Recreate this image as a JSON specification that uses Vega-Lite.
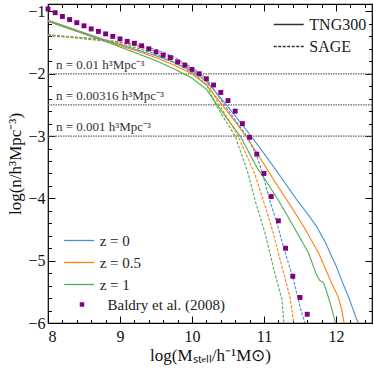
{
  "$schema": "https://vega.github.io/schema/vega-lite/v6.json",
  "width": 324,
  "height": 319,
  "autosize": "none",
  "padding": {"left": 48, "top": 4, "right": 2, "bottom": 45},
  "background": "white",
  "config": {
    "view": {"stroke": "#000", "strokeWidth": 1.2},
    "font": "Liberation Serif",
    "axis": {
      "domain": false, "grid": false, "tickColor": "#000", "tickWidth": 1,
      "labelFont": "Liberation Serif", "labelFontSize": 16, "labelColor": "#111",
      "titleFont": "Liberation Serif", "titleFontSize": 17, "titleFontWeight": "normal", "titleColor": "#111"
    },
    "legend": {"labelFont": "Liberation Serif", "labelFontSize": 15, "labelColor": "#222", "padding": 0}
  },
  "datasets": {
    "levels": [
      {"y": -2, "label": "n = 0.01 h³Mpc⁻³"},
      {"y": -2.5, "label": "n = 0.00316 h³Mpc⁻³"},
      {"y": -3, "label": "n = 0.001 h³Mpc⁻³"}
    ],
    "curves": [
      {"z": "z = 0", "model": "TNG300", "x": 8.0, "y": -1.14},
      {"z": "z = 0", "model": "TNG300", "x": 8.25, "y": -1.24},
      {"z": "z = 0", "model": "TNG300", "x": 8.5, "y": -1.34},
      {"z": "z = 0", "model": "TNG300", "x": 8.75, "y": -1.44},
      {"z": "z = 0", "model": "TNG300", "x": 9.0, "y": -1.53},
      {"z": "z = 0", "model": "TNG300", "x": 9.25, "y": -1.62},
      {"z": "z = 0", "model": "TNG300", "x": 9.5, "y": -1.71},
      {"z": "z = 0", "model": "TNG300", "x": 9.75, "y": -1.82},
      {"z": "z = 0", "model": "TNG300", "x": 10.0, "y": -1.95},
      {"z": "z = 0", "model": "TNG300", "x": 10.2, "y": -2.12},
      {"z": "z = 0", "model": "TNG300", "x": 10.48, "y": -2.5},
      {"z": "z = 0", "model": "TNG300", "x": 10.65, "y": -2.75},
      {"z": "z = 0", "model": "TNG300", "x": 10.82, "y": -3.0},
      {"z": "z = 0", "model": "TNG300", "x": 11.0, "y": -3.28},
      {"z": "z = 0", "model": "TNG300", "x": 11.2, "y": -3.6},
      {"z": "z = 0", "model": "TNG300", "x": 11.46, "y": -4.03},
      {"z": "z = 0", "model": "TNG300", "x": 11.6, "y": -4.24},
      {"z": "z = 0", "model": "TNG300", "x": 11.73, "y": -4.45},
      {"z": "z = 0", "model": "TNG300", "x": 11.85, "y": -4.7},
      {"z": "z = 0", "model": "TNG300", "x": 11.92, "y": -4.88},
      {"z": "z = 0", "model": "TNG300", "x": 12.0, "y": -5.08},
      {"z": "z = 0", "model": "TNG300", "x": 12.06, "y": -5.26},
      {"z": "z = 0", "model": "TNG300", "x": 12.19, "y": -5.63},
      {"z": "z = 0", "model": "TNG300", "x": 12.28, "y": -5.92},
      {"z": "z = 0", "model": "TNG300", "x": 12.33, "y": -6.05},
      {"z": "z = 0.5", "model": "TNG300", "x": 8.0, "y": -1.15},
      {"z": "z = 0.5", "model": "TNG300", "x": 8.25, "y": -1.25},
      {"z": "z = 0.5", "model": "TNG300", "x": 8.5, "y": -1.35},
      {"z": "z = 0.5", "model": "TNG300", "x": 8.75, "y": -1.45},
      {"z": "z = 0.5", "model": "TNG300", "x": 9.0, "y": -1.55},
      {"z": "z = 0.5", "model": "TNG300", "x": 9.25, "y": -1.64},
      {"z": "z = 0.5", "model": "TNG300", "x": 9.5, "y": -1.74},
      {"z": "z = 0.5", "model": "TNG300", "x": 9.75, "y": -1.86},
      {"z": "z = 0.5", "model": "TNG300", "x": 10.0, "y": -2.0},
      {"z": "z = 0.5", "model": "TNG300", "x": 10.2, "y": -2.18},
      {"z": "z = 0.5", "model": "TNG300", "x": 10.42, "y": -2.5},
      {"z": "z = 0.5", "model": "TNG300", "x": 10.6, "y": -2.77},
      {"z": "z = 0.5", "model": "TNG300", "x": 10.75, "y": -3.0},
      {"z": "z = 0.5", "model": "TNG300", "x": 11.0, "y": -3.45},
      {"z": "z = 0.5", "model": "TNG300", "x": 11.15, "y": -3.73},
      {"z": "z = 0.5", "model": "TNG300", "x": 11.32, "y": -4.03},
      {"z": "z = 0.5", "model": "TNG300", "x": 11.55, "y": -4.45},
      {"z": "z = 0.5", "model": "TNG300", "x": 11.76, "y": -4.88},
      {"z": "z = 0.5", "model": "TNG300", "x": 11.85, "y": -5.12},
      {"z": "z = 0.5", "model": "TNG300", "x": 11.92, "y": -5.31},
      {"z": "z = 0.5", "model": "TNG300", "x": 12.03, "y": -5.58},
      {"z": "z = 0.5", "model": "TNG300", "x": 12.08, "y": -5.79},
      {"z": "z = 0.5", "model": "TNG300", "x": 12.12, "y": -6.05},
      {"z": "z = 1", "model": "TNG300", "x": 8.0, "y": -1.16},
      {"z": "z = 1", "model": "TNG300", "x": 8.25, "y": -1.26},
      {"z": "z = 1", "model": "TNG300", "x": 8.5, "y": -1.36},
      {"z": "z = 1", "model": "TNG300", "x": 8.75, "y": -1.46},
      {"z": "z = 1", "model": "TNG300", "x": 9.0, "y": -1.57},
      {"z": "z = 1", "model": "TNG300", "x": 9.25, "y": -1.68},
      {"z": "z = 1", "model": "TNG300", "x": 9.5, "y": -1.79},
      {"z": "z = 1", "model": "TNG300", "x": 9.75, "y": -1.92},
      {"z": "z = 1", "model": "TNG300", "x": 10.0, "y": -2.07},
      {"z": "z = 1", "model": "TNG300", "x": 10.2, "y": -2.25},
      {"z": "z = 1", "model": "TNG300", "x": 10.35, "y": -2.5},
      {"z": "z = 1", "model": "TNG300", "x": 10.5, "y": -2.74},
      {"z": "z = 1", "model": "TNG300", "x": 10.67, "y": -3.0},
      {"z": "z = 1", "model": "TNG300", "x": 10.9, "y": -3.5},
      {"z": "z = 1", "model": "TNG300", "x": 11.05, "y": -3.76},
      {"z": "z = 1", "model": "TNG300", "x": 11.2, "y": -4.03},
      {"z": "z = 1", "model": "TNG300", "x": 11.41, "y": -4.45},
      {"z": "z = 1", "model": "TNG300", "x": 11.62, "y": -4.88},
      {"z": "z = 1", "model": "TNG300", "x": 11.72, "y": -5.2},
      {"z": "z = 1", "model": "TNG300", "x": 11.77, "y": -5.31},
      {"z": "z = 1", "model": "TNG300", "x": 11.83, "y": -5.36},
      {"z": "z = 1", "model": "TNG300", "x": 11.87, "y": -5.5},
      {"z": "z = 1", "model": "TNG300", "x": 11.92, "y": -5.68},
      {"z": "z = 1", "model": "TNG300", "x": 12.0, "y": -6.03},
      {"z": "z = 0", "model": "SAGE", "x": 8.0, "y": -1.37},
      {"z": "z = 0", "model": "SAGE", "x": 8.25, "y": -1.4},
      {"z": "z = 0", "model": "SAGE", "x": 8.5, "y": -1.42},
      {"z": "z = 0", "model": "SAGE", "x": 8.75, "y": -1.45},
      {"z": "z = 0", "model": "SAGE", "x": 9.0, "y": -1.49},
      {"z": "z = 0", "model": "SAGE", "x": 9.25, "y": -1.54},
      {"z": "z = 0", "model": "SAGE", "x": 9.5, "y": -1.61},
      {"z": "z = 0", "model": "SAGE", "x": 9.75, "y": -1.73},
      {"z": "z = 0", "model": "SAGE", "x": 10.0, "y": -1.9},
      {"z": "z = 0", "model": "SAGE", "x": 10.2, "y": -2.08},
      {"z": "z = 0", "model": "SAGE", "x": 10.45, "y": -2.5},
      {"z": "z = 0", "model": "SAGE", "x": 10.6, "y": -2.74},
      {"z": "z = 0", "model": "SAGE", "x": 10.76, "y": -3.0},
      {"z": "z = 0", "model": "SAGE", "x": 10.9, "y": -3.32},
      {"z": "z = 0", "model": "SAGE", "x": 10.98, "y": -3.6},
      {"z": "z = 0", "model": "SAGE", "x": 11.08, "y": -4.03},
      {"z": "z = 0", "model": "SAGE", "x": 11.17, "y": -4.36},
      {"z": "z = 0", "model": "SAGE", "x": 11.27, "y": -4.78},
      {"z": "z = 0", "model": "SAGE", "x": 11.41, "y": -5.31},
      {"z": "z = 0", "model": "SAGE", "x": 11.5, "y": -5.74},
      {"z": "z = 0", "model": "SAGE", "x": 11.58, "y": -6.05},
      {"z": "z = 0.5", "model": "SAGE", "x": 8.0, "y": -1.38},
      {"z": "z = 0.5", "model": "SAGE", "x": 8.25, "y": -1.4},
      {"z": "z = 0.5", "model": "SAGE", "x": 8.5, "y": -1.43},
      {"z": "z = 0.5", "model": "SAGE", "x": 8.75, "y": -1.46},
      {"z": "z = 0.5", "model": "SAGE", "x": 9.0, "y": -1.5},
      {"z": "z = 0.5", "model": "SAGE", "x": 9.25, "y": -1.56},
      {"z": "z = 0.5", "model": "SAGE", "x": 9.5, "y": -1.64},
      {"z": "z = 0.5", "model": "SAGE", "x": 9.75, "y": -1.76},
      {"z": "z = 0.5", "model": "SAGE", "x": 10.0, "y": -1.93},
      {"z": "z = 0.5", "model": "SAGE", "x": 10.2, "y": -2.12},
      {"z": "z = 0.5", "model": "SAGE", "x": 10.38, "y": -2.5},
      {"z": "z = 0.5", "model": "SAGE", "x": 10.52, "y": -2.76},
      {"z": "z = 0.5", "model": "SAGE", "x": 10.64, "y": -3.0},
      {"z": "z = 0.5", "model": "SAGE", "x": 10.87, "y": -3.6},
      {"z": "z = 0.5", "model": "SAGE", "x": 10.99, "y": -4.03},
      {"z": "z = 0.5", "model": "SAGE", "x": 11.13, "y": -4.56},
      {"z": "z = 0.5", "model": "SAGE", "x": 11.25, "y": -5.1},
      {"z": "z = 0.5", "model": "SAGE", "x": 11.36, "y": -5.58},
      {"z": "z = 0.5", "model": "SAGE", "x": 11.42, "y": -6.05},
      {"z": "z = 1", "model": "SAGE", "x": 8.0, "y": -1.39},
      {"z": "z = 1", "model": "SAGE", "x": 8.25, "y": -1.41},
      {"z": "z = 1", "model": "SAGE", "x": 8.5, "y": -1.44},
      {"z": "z = 1", "model": "SAGE", "x": 8.75, "y": -1.47},
      {"z": "z = 1", "model": "SAGE", "x": 9.0, "y": -1.52},
      {"z": "z = 1", "model": "SAGE", "x": 9.25, "y": -1.59},
      {"z": "z = 1", "model": "SAGE", "x": 9.5, "y": -1.68},
      {"z": "z = 1", "model": "SAGE", "x": 9.75, "y": -1.81},
      {"z": "z = 1", "model": "SAGE", "x": 10.0, "y": -1.98},
      {"z": "z = 1", "model": "SAGE", "x": 10.2, "y": -2.17},
      {"z": "z = 1", "model": "SAGE", "x": 10.33, "y": -2.5},
      {"z": "z = 1", "model": "SAGE", "x": 10.47, "y": -2.76},
      {"z": "z = 1", "model": "SAGE", "x": 10.6, "y": -3.0},
      {"z": "z = 1", "model": "SAGE", "x": 10.78, "y": -3.6},
      {"z": "z = 1", "model": "SAGE", "x": 10.875, "y": -4.03},
      {"z": "z = 1", "model": "SAGE", "x": 11.015, "y": -4.56},
      {"z": "z = 1", "model": "SAGE", "x": 11.15, "y": -5.2},
      {"z": "z = 1", "model": "SAGE", "x": 11.25, "y": -5.63},
      {"z": "z = 1", "model": "SAGE", "x": 11.28, "y": -6.05}
    ],
    "baldry": [
      {"src": "Baldry et al. (2008)", "x": 8.0, "y": -0.96}, {"src": "Baldry et al. (2008)", "x": 8.1, "y": -1.02},
      {"src": "Baldry et al. (2008)", "x": 8.2, "y": -1.08}, {"src": "Baldry et al. (2008)", "x": 8.3, "y": -1.13},
      {"src": "Baldry et al. (2008)", "x": 8.4, "y": -1.18}, {"src": "Baldry et al. (2008)", "x": 8.5, "y": -1.23},
      {"src": "Baldry et al. (2008)", "x": 8.6, "y": -1.28}, {"src": "Baldry et al. (2008)", "x": 8.7, "y": -1.32},
      {"src": "Baldry et al. (2008)", "x": 8.8, "y": -1.36}, {"src": "Baldry et al. (2008)", "x": 8.9, "y": -1.4},
      {"src": "Baldry et al. (2008)", "x": 9.0, "y": -1.44}, {"src": "Baldry et al. (2008)", "x": 9.1, "y": -1.48},
      {"src": "Baldry et al. (2008)", "x": 9.2, "y": -1.51}, {"src": "Baldry et al. (2008)", "x": 9.3, "y": -1.55},
      {"src": "Baldry et al. (2008)", "x": 9.4, "y": -1.6}, {"src": "Baldry et al. (2008)", "x": 9.5, "y": -1.65},
      {"src": "Baldry et al. (2008)", "x": 9.6, "y": -1.7}, {"src": "Baldry et al. (2008)", "x": 9.7, "y": -1.74},
      {"src": "Baldry et al. (2008)", "x": 9.8, "y": -1.81}, {"src": "Baldry et al. (2008)", "x": 9.9, "y": -1.86},
      {"src": "Baldry et al. (2008)", "x": 10.0, "y": -1.93}, {"src": "Baldry et al. (2008)", "x": 10.1, "y": -2.0},
      {"src": "Baldry et al. (2008)", "x": 10.2, "y": -2.08}, {"src": "Baldry et al. (2008)", "x": 10.3, "y": -2.18},
      {"src": "Baldry et al. (2008)", "x": 10.4, "y": -2.3}, {"src": "Baldry et al. (2008)", "x": 10.5, "y": -2.43},
      {"src": "Baldry et al. (2008)", "x": 10.6, "y": -2.6}, {"src": "Baldry et al. (2008)", "x": 10.7, "y": -2.8},
      {"src": "Baldry et al. (2008)", "x": 10.8, "y": -3.02}, {"src": "Baldry et al. (2008)", "x": 10.9, "y": -3.29},
      {"src": "Baldry et al. (2008)", "x": 11.0, "y": -3.6}, {"src": "Baldry et al. (2008)", "x": 11.1, "y": -3.97},
      {"src": "Baldry et al. (2008)", "x": 11.2, "y": -4.36}, {"src": "Baldry et al. (2008)", "x": 11.3, "y": -4.8},
      {"src": "Baldry et al. (2008)", "x": 11.4, "y": -5.25}, {"src": "Baldry et al. (2008)", "x": 11.5, "y": -5.59},
      {"src": "Baldry et al. (2008)", "x": 11.6, "y": -5.86}
    ]
  },
  "layer": [
    {
      "data": {"name": "levels"},
      "mark": {"type": "rule", "color": "#666", "strokeWidth": 1.3, "strokeDash": [1.5, 1]},
      "encoding": {
        "y": {"field": "y", "type": "quantitative", "scale": {"domain": [-6, -0.88], "nice": false, "zero": false},
              "axis": {"orient": "right", "values": [-6, -5, -4, -3, -2, -1], "tickSize": -7, "labels": false, "title": null}}
      }
    },
    {
      "data": {"name": "levels"},
      "mark": {"type": "text", "align": "left", "baseline": "alphabetic", "dy": -5, "fontSize": 13, "color": "#333", "font": "Liberation Serif"},
      "encoding": {
        "x": {"datum": 8.11, "type": "quantitative", "scale": {"domain": [8, 12.5], "nice": false, "zero": false}, "axis": null},
        "y": {"field": "y", "type": "quantitative", "scale": {"domain": [-6, -0.88], "nice": false, "zero": false}, "axis": null},
        "text": {"field": "label"}
      }
    },
    {
      "data": {"name": "curves"},
      "mark": {"type": "line", "strokeWidth": 1.1, "clip": true},
      "encoding": {
        "x": {"field": "x", "type": "quantitative", "scale": {"domain": [8, 12.5], "nice": false, "zero": false},
              "axis": {"orient": "bottom", "values": [8, 9, 10, 11, 12], "tickSize": -7, "labelPadding": 12, "title": "log(Mₛₜₑₗₗ/h⁻¹M⊙)", "titlePadding": 3}},
        "y": {"field": "y", "type": "quantitative", "scale": {"domain": [-6, -0.88], "nice": false, "zero": false},
              "axis": {"orient": "left", "values": [-6, -5, -4, -3, -2, -1], "tickSize": -7, "labelPadding": 10, "title": "log(n/h³Mpc⁻³)", "titlePadding": 3}},
        "color": {"field": "z", "type": "nominal",
                  "scale": {"domain": ["z = 0", "z = 0.5", "z = 1"], "range": ["#4a90d0", "#ff7f0e", "#4caf50"]},
                  "legend": {"orient": "none", "legendX": 23.7, "legendY": 229, "title": null, "symbolType": "M-3,0H3", "symbolSize": 100, "symbolStrokeWidth": 1.3, "rowPadding": 6, "labelOffset": 13}},
        "strokeDash": {"field": "model", "type": "nominal",
                       "scale": {"domain": ["TNG300", "SAGE"], "range": [[1, 0], [3, 1.5]]},
                       "legend": {"orient": "none", "legendX": 232.7, "legendY": 12.5, "title": null, "symbolType": "M-3,0H3", "symbolSize": 100, "symbolStrokeColor": "#333", "symbolStrokeWidth": 1.3, "rowPadding": 6, "labelOffset": 12.6, "labelFontSize": 16}},
        "order": {"field": "x", "type": "quantitative"}
      }
    },
    {
      "data": {"name": "baldry"},
      "mark": {"type": "point", "size": 24, "color": "#800080", "opacity": 1, "filled": true},
      "encoding": {
        "x": {"field": "x", "type": "quantitative", "scale": {"domain": [8, 12.5], "nice": false, "zero": false},
              "axis": {"orient": "bottom", "values": [8.2, 8.4, 8.6, 8.8, 9.2, 9.4, 9.6, 9.8, 10.2, 10.4, 10.6, 10.8, 11.2, 11.4, 11.6, 11.8, 12.2, 12.4], "tickSize": -3.5, "labels": false, "title": null}},
        "y": {"field": "y", "type": "quantitative", "scale": {"domain": [-6, -0.88], "nice": false, "zero": false},
              "axis": {"orient": "left", "values": [-5.8, -5.6, -5.4, -5.2, -4.8, -4.6, -4.4, -4.2, -3.8, -3.6, -3.4, -3.2, -2.8, -2.6, -2.4, -2.2, -1.8, -1.6, -1.4, -1.2], "tickSize": -3.5, "labels": false, "title": null}},
        "shape": {"field": "src", "type": "nominal",
                  "scale": {"range": ["square"]},
                  "legend": {"orient": "none", "legendX": 26.5, "legendY": 293, "title": null, "symbolSize": 20, "symbolFillColor": "#800080", "symbolStrokeWidth": 0, "labelOffset": 18}}
      }
    },
    {
      "data": {"name": "baldry"},
      "mark": {"type": "point", "opacity": 0},
      "encoding": {
        "x": {"field": "x", "type": "quantitative", "scale": {"domain": [8, 12.5], "nice": false, "zero": false},
              "axis": {"orient": "top", "values": [8, 9, 10, 11, 12], "tickSize": -7, "labels": false, "title": null}},
        "y": {"field": "y", "type": "quantitative", "scale": {"domain": [-6, -0.88], "nice": false, "zero": false},
              "axis": {"orient": "right", "values": [-5.8, -5.6, -5.4, -5.2, -4.8, -4.6, -4.4, -4.2, -3.8, -3.6, -3.4, -3.2, -2.8, -2.6, -2.4, -2.2, -1.8, -1.6, -1.4, -1.2], "tickSize": -3.5, "labels": false, "title": null}}
      }
    },
    {
      "data": {"name": "baldry"},
      "mark": {"type": "point", "opacity": 0},
      "encoding": {
        "x": {"field": "x", "type": "quantitative", "scale": {"domain": [8, 12.5], "nice": false, "zero": false},
              "axis": {"orient": "top", "values": [8.2, 8.4, 8.6, 8.8, 9.2, 9.4, 9.6, 9.8, 10.2, 10.4, 10.6, 10.8, 11.2, 11.4, 11.6, 11.8, 12.2, 12.4], "tickSize": -3.5, "labels": false, "title": null}},
        "y": {"field": "y", "type": "quantitative", "scale": {"domain": [-6, -0.88], "nice": false, "zero": false}, "axis": null}
      }
    }
  ],
  "resolve": {"axis": {"x": "independent", "y": "independent"}}
}
